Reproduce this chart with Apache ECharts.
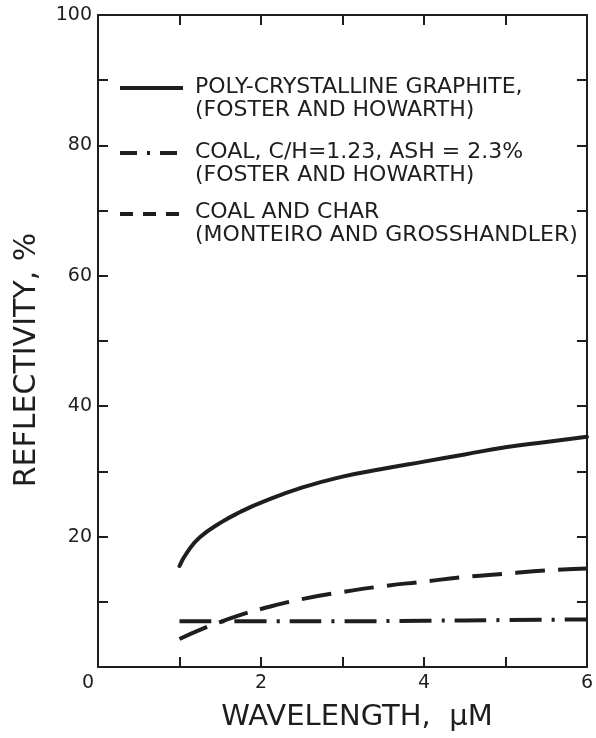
<!DOCTYPE html>
<html>
<head>
<meta charset="utf-8">
<script src="https://cdn.jsdelivr.net/npm/echarts@6/dist/echarts.min.js"></script>
<style>
html,body{margin:0;padding:0;background:#fff;}
#c{width:596px;height:738px;}
</style>
</head>
<body>
<div id="c"></div>
<script>
// Data
const graphite = [[1,15.5],[1.1,17.7],[1.25,19.9],[1.5,22.1],[1.75,23.8],[2,25.2],[2.5,27.5],[3,29.2],[3.5,30.4],[4,31.5],[4.5,32.6],[5,33.7],[5.5,34.5],[6,35.3]];
const coalFH = [[1,7.0],[2,7.0],[3,7.0],[4,7.1],[5,7.2],[6,7.3]];
const coalChar = [[1,4.3],[1.25,5.7],[1.5,6.9],[1.75,8.0],[2,8.9],[2.5,10.4],[3,11.5],[3.5,12.4],[4,13.1],[4.5,13.8],[5,14.3],[5.5,14.8],[6,15.1]];
const legendLines1 = ['POLY-CRYSTALLINE GRAPHITE,', '(FOSTER AND HOWARTH)'];
const legendLines2 = ['COAL, C/H=1.23, ASH = 2.3%', '(FOSTER AND HOWARTH)'];
const legendLines3 = ['COAL AND CHAR', '(MONTEIRO AND GROSSHANDLER)'];
const xTitle = 'WAVELENGTH,  \u03bcM';
const yTitle = 'REFLECTIVITY, %';

const INK = '#1e1e1e';
const FONT = 'DejaVu Sans';
const chart = echarts.init(document.getElementById('c'), null, {renderer:'canvas'});

const baseAxisLine = {show:true, onZero:false, lineStyle:{color:INK, width:2}};
const baseTick = {show:true, inside:true, length:10, lineStyle:{color:INK, width:2}};
const lw = 4;

function legendText(x, y, lines){
  return {type:'text', left:x, top:y, style:{text:lines.join('\n'), font:'22px "'+FONT+'"', fill:INK, lineHeight:23}};
}

chart.setOption({
  animation:false,
  backgroundColor:'#fff',
  grid:{left:98, right:9, top:15, bottom:71},
  xAxis:[{
    type:'value', min:0, max:6, interval:1, position:'bottom',
    axisLine:baseAxisLine, axisTick:baseTick, splitLine:{show:false},
    axisLabel:{color:INK, fontFamily:FONT, fontSize:19, margin:7,
      formatter:function(v){ if(v===0) return '{z|0}'; return (v%2===0)? String(v) : ''; },
      rich:{z:{fontFamily:FONT, fontSize:19, color:INK, padding:[0,20,0,0]}}}
  },{
    type:'value', min:0, max:6, interval:1, position:'top',
    axisLine:baseAxisLine, axisTick:baseTick,
    axisLabel:{show:false}, splitLine:{show:false}
  }],
  yAxis:[{
    type:'value', min:0, max:100, interval:10, position:'left',
    axisLine:baseAxisLine, axisTick:baseTick, splitLine:{show:false},
    axisLabel:{color:INK, fontFamily:FONT, fontSize:19, margin:6,
      formatter:function(v){ return (v>0 && v%20===0)? String(v) : ''; }}
  },{
    type:'value', min:0, max:100, interval:10, position:'right',
    axisLine:baseAxisLine, axisTick:baseTick,
    axisLabel:{show:false}, splitLine:{show:false}
  }],
  series:[
    {name:'graphite', type:'line', data:graphite, smooth:true, symbol:'none',
     lineStyle:{color:INK, width:lw, cap:'round'}},
    {name:'coalFH', type:'line', data:coalFH, smooth:true, symbol:'none',
     lineStyle:{color:INK, width:lw, type:[32,10,3,10], cap:'butt'}},
    {name:'coalChar', type:'line', data:coalChar, smooth:true, symbol:'none',
     lineStyle:{color:INK, width:lw, type:[30,13], cap:'butt'}}
  ],
  graphic:[
    {type:'line', shape:{x1:120,y1:88,x2:183,y2:88}, style:{stroke:INK, lineWidth:lw}},
    {type:'line', shape:{x1:120,y1:153,x2:182,y2:153}, style:{stroke:INK, lineWidth:lw, lineDash:[17,10,3,10]}},
    {type:'line', shape:{x1:120,y1:214,x2:179,y2:214}, style:{stroke:INK, lineWidth:lw, lineDash:[13,10]}},
    legendText(195, 76, legendLines1),
    legendText(195, 141, legendLines2),
    legendText(195, 201, legendLines3),
    {type:'text', x:27, y:360, rotation:Math.PI/2,
     style:{text:yTitle, font:'30px "'+FONT+'"', fill:INK, align:'center', verticalAlign:'middle'}},
    {type:'text', x:357, y:717,
     style:{text:xTitle, font:'29px "'+FONT+'"', fill:INK, align:'center', verticalAlign:'middle'}}
  ]
});
</script>
</body>
</html>
